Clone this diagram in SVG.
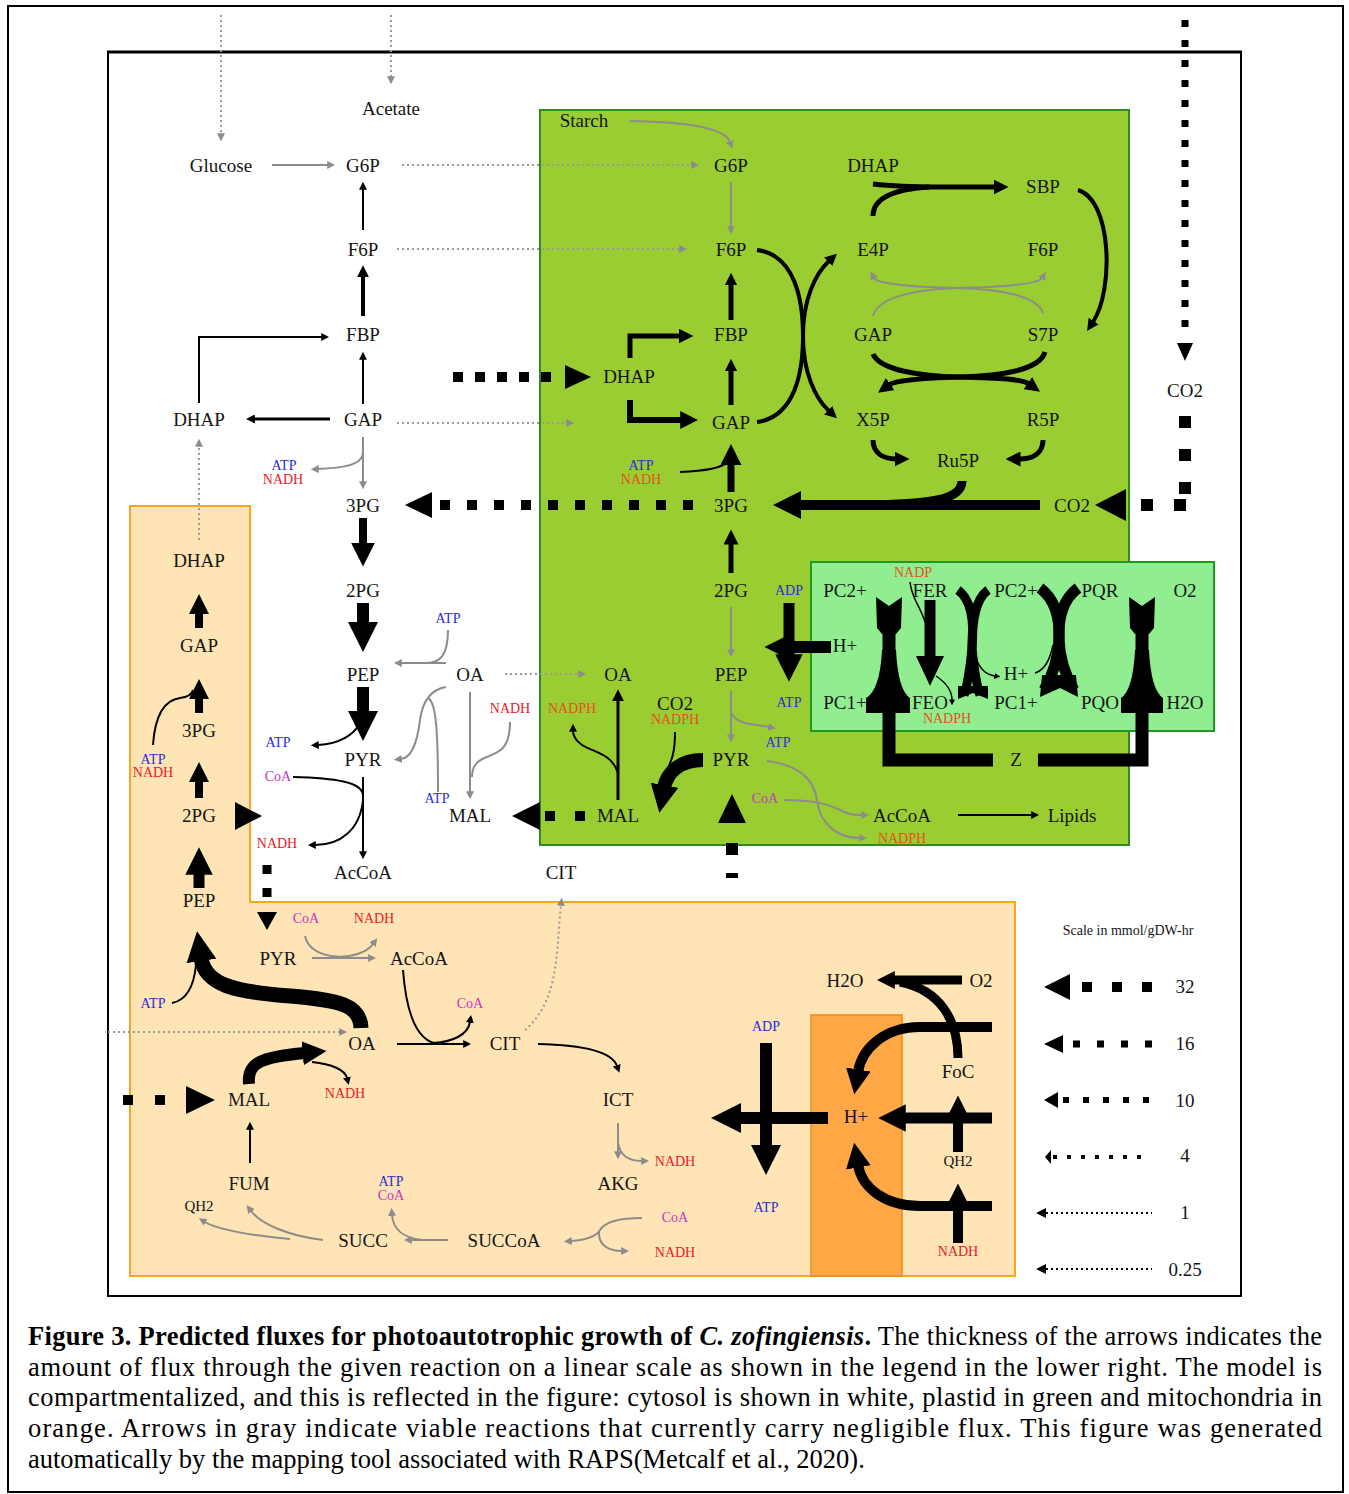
<svg xmlns="http://www.w3.org/2000/svg" width="1349" height="1494" viewBox="0 0 1349 1494">
<style>
.m{font-family:"Liberation Serif","Times New Roman",serif;font-size:19px;fill:#151515;text-anchor:middle;dominant-baseline:central}
.s{font-size:14px}
.q{font-size:15px}
.blue{fill:#2a2ad8}.red{fill:#e8202a}.mag{fill:#c238c2}.org{fill:#e4501a}
.k{fill:none;stroke:#000}
.g{fill:none;stroke:#8c8c8c;stroke-width:2}
.gd{fill:none;stroke:#9a9a9a;stroke-width:2;stroke-dasharray:2 3}
.cap{font-family:"Liberation Serif","Times New Roman",serif;font-size:26.5px;fill:#000}
</style>
<defs>
<marker id="a3" viewBox="0 0 10 10" refX="1" refY="5" markerWidth="3" markerHeight="3" orient="auto" markerUnits="strokeWidth"><path d="M0,0L10,5L0,10z" fill="#000"/></marker>
<marker id="a25" viewBox="0 0 10 10" refX="1" refY="5" markerWidth="2.5" markerHeight="2.5" orient="auto" markerUnits="strokeWidth"><path d="M0,0L10,5L0,10z" fill="#000"/></marker>
<marker id="a2" viewBox="0 0 10 10" refX="1" refY="5" markerWidth="2" markerHeight="2" orient="auto" markerUnits="strokeWidth"><path d="M0,0L10,5L0,10z" fill="#000"/></marker>
<marker id="at" viewBox="0 0 10 10" refX="1" refY="5" markerWidth="4" markerHeight="4" orient="auto" markerUnits="strokeWidth"><path d="M0,0L10,5L0,10z" fill="#000"/></marker>
<marker id="ag" viewBox="0 0 10 10" refX="1" refY="5" markerWidth="4" markerHeight="4" orient="auto" markerUnits="strokeWidth"><path d="M0,0L10,5L0,10z" fill="#8c8c8c"/></marker>
</defs>
<rect width="1349" height="1494" fill="#fff"/>
<rect x="8" y="6" width="1335" height="1486" fill="none" stroke="#000" stroke-width="2"/>
<g id="frame">
<rect x="108" y="52" width="1133" height="1244" fill="#fff" stroke="#000" stroke-width="2"/>
<line x1="107" y1="52" x2="1242" y2="52" stroke="#000" stroke-width="3"/>
</g>
<g id="compartments">
<rect id="plastid" x="540" y="110" width="589" height="735" fill="#9acd32" stroke="#2e8b22" stroke-width="2"/>
<rect id="thylakoid" x="811" y="562" width="403" height="169" fill="#90ee90" stroke="#1e9a1e" stroke-width="2"/>
<polygon id="mitochondrion" points="130,506 250,506 250,902 1015,902 1015,1276 130,1276" fill="#ffe4b5" stroke="#f5a623" stroke-width="2"/>
<rect id="intermembrane" x="811" y="1015" width="91" height="261" fill="#ffa845" stroke="#f08a1a" stroke-width="1.5"/>
</g>
<g id="nodes">
<g id="c_glucose"><text class="m" x="221" y="165">Glucose</text></g>
<g id="c_acetate"><text class="m" x="391" y="108">Acetate</text></g>
<g id="c_g6p"><text class="m" x="363" y="165">G6P</text></g>
<g id="c_f6p"><text class="m" x="363" y="249">F6P</text></g>
<g id="c_fbp"><text class="m" x="363" y="334">FBP</text></g>
<g id="c_dhap"><text class="m" x="199" y="419">DHAP</text></g>
<g id="c_gap"><text class="m" x="363" y="419">GAP</text></g>
<g id="c_3pg"><text class="m" x="363" y="505">3PG</text></g>
<g id="c_2pg"><text class="m" x="363" y="590">2PG</text></g>
<g id="c_pep"><text class="m" x="363" y="674">PEP</text></g>
<g id="c_pyr"><text class="m" x="363" y="759">PYR</text></g>
<g id="c_accoa"><text class="m" x="363" y="872">AcCoA</text></g>
<g id="c_oa"><text class="m" x="470" y="674">OA</text></g>
<g id="c_mal"><text class="m" x="470" y="815">MAL</text></g>
<g id="c_cit"><text class="m" x="561" y="872">CIT</text></g>
<g id="c_co2"><text class="m" x="1185" y="390">CO2</text></g>
<g id="c_cof1"><text class="m s blue" x="284" y="465">ATP</text><text class="m s red" x="283" y="479">NADH</text></g>
<g id="c_cof2"><text class="m s blue" x="448" y="618">ATP</text></g>
<g id="c_cof3"><text class="m s blue" x="278" y="742">ATP</text></g>
<g id="c_cof4"><text class="m s mag" x="278" y="776">CoA</text></g>
<g id="c_cof5"><text class="m s red" x="277" y="843">NADH</text></g>
<g id="c_cof6"><text class="m s red" x="510" y="708">NADH</text></g>
<g id="c_cof7"><text class="m s blue" x="437" y="798">ATP</text></g>

<g id="m_dhap"><text class="m" x="199" y="560">DHAP</text></g>
<g id="m_gap"><text class="m" x="199" y="645">GAP</text></g>
<g id="m_3pg"><text class="m" x="199" y="730">3PG</text></g>
<g id="m_2pg"><text class="m" x="199" y="815">2PG</text></g>
<g id="m_pep"><text class="m" x="199" y="900">PEP</text></g>
<g id="m_pyr"><text class="m" x="278" y="958">PYR</text></g>
<g id="m_accoa"><text class="m" x="419" y="958">AcCoA</text></g>
<g id="m_oa"><text class="m" x="362" y="1043">OA</text></g>
<g id="m_cit"><text class="m" x="505" y="1043">CIT</text></g>
<g id="m_mal"><text class="m" x="249" y="1099">MAL</text></g>
<g id="m_ict"><text class="m" x="618" y="1099">ICT</text></g>
<g id="m_fum"><text class="m" x="249" y="1183">FUM</text></g>
<g id="m_akg"><text class="m" x="618" y="1183">AKG</text></g>
<g id="m_succ"><text class="m" x="363" y="1240">SUCC</text></g>
<g id="m_succoa"><text class="m" x="504" y="1240">SUCCoA</text></g>
<g id="m_qh2a"><text class="m q" x="199" y="1206">QH2</text></g>
<g id="m_h2o"><text class="m" x="845" y="980">H2O</text></g>
<g id="m_o2"><text class="m" x="981" y="980">O2</text></g>
<g id="m_foc"><text class="m" x="958" y="1071">FoC</text></g>
<g id="m_h"><text class="m" x="856" y="1116">H+</text></g>
<g id="m_qh2b"><text class="m q" x="958" y="1161">QH2</text></g>
<g id="m_cof1"><text class="m s blue" x="153" y="759">ATP</text><text class="m s red" x="153" y="772">NADH</text></g>
<g id="m_cof2"><text class="m s blue" x="153" y="1003">ATP</text></g>
<g id="m_cof3"><text class="m s mag" x="306" y="918">CoA</text></g>
<g id="m_cof4"><text class="m s red" x="374" y="918">NADH</text></g>
<g id="m_cof5"><text class="m s mag" x="470" y="1003">CoA</text></g>
<g id="m_cof6"><text class="m s red" x="345" y="1093">NADH</text></g>
<g id="m_cof7"><text class="m s blue" x="391" y="1181">ATP</text><text class="m s mag" x="391" y="1195">CoA</text></g>
<g id="m_cof8"><text class="m s red" x="675" y="1161">NADH</text></g>
<g id="m_cof9"><text class="m s mag" x="675" y="1217">CoA</text></g>
<g id="m_cof10"><text class="m s red" x="675" y="1252">NADH</text></g>
<g id="m_adp"><text class="m s blue" x="766" y="1026">ADP</text></g>
<g id="m_atp"><text class="m s blue" x="766" y="1207">ATP</text></g>
<g id="m_nadh"><text class="m s red" x="958" y="1251">NADH</text></g>

<g id="p_starch"><text class="m" x="584" y="120">Starch</text></g>
<g id="p_g6p"><text class="m" x="731" y="165">G6P</text></g>
<g id="p_f6p"><text class="m" x="731" y="249">F6P</text></g>
<g id="p_fbp"><text class="m" x="731" y="334">FBP</text></g>
<g id="p_dhap"><text class="m" x="629" y="376">DHAP</text></g>
<g id="p_gap"><text class="m" x="731" y="422">GAP</text></g>
<g id="p_3pg"><text class="m" x="731" y="505">3PG</text></g>
<g id="p_2pg"><text class="m" x="731" y="590">2PG</text></g>
<g id="p_pep"><text class="m" x="731" y="674">PEP</text></g>
<g id="p_pyr"><text class="m" x="731" y="759">PYR</text></g>
<g id="p_oa"><text class="m" x="618" y="674">OA</text></g>
<g id="p_mal"><text class="m" x="618" y="815">MAL</text></g>
<g id="p_co2b"><text class="m" x="675" y="703">CO2</text></g>
<g id="p_accoa"><text class="m" x="902" y="815">AcCoA</text></g>
<g id="p_lipids"><text class="m" x="1072" y="815">Lipids</text></g>
<g id="p_dhap2"><text class="m" x="873" y="165">DHAP</text></g>
<g id="p_sbp"><text class="m" x="1043" y="186">SBP</text></g>
<g id="p_e4p"><text class="m" x="873" y="249">E4P</text></g>
<g id="p_f6p2"><text class="m" x="1043" y="249">F6P</text></g>
<g id="p_gap2"><text class="m" x="873" y="334">GAP</text></g>
<g id="p_s7p"><text class="m" x="1043" y="334">S7P</text></g>
<g id="p_x5p"><text class="m" x="873" y="419">X5P</text></g>
<g id="p_r5p"><text class="m" x="1043" y="419">R5P</text></g>
<g id="p_ru5p"><text class="m" x="958" y="460">Ru5P</text></g>
<g id="p_co2"><text class="m" x="1072" y="505">CO2</text></g>
<g id="p_cof1"><text class="m s blue" x="641" y="465">ATP</text><text class="m s org" x="641" y="479">NADH</text></g>
<g id="p_adp"><text class="m s blue" x="789" y="590">ADP</text></g>
<g id="p_atp"><text class="m s blue" x="789" y="702">ATP</text></g>
<g id="p_cof2"><text class="m s blue" x="778" y="742">ATP</text></g>
<g id="p_cof3"><text class="m s org" x="572" y="708">NADPH</text></g>
<g id="p_cof4"><text class="m s org" x="675" y="719">NADPH</text></g>
<g id="p_cof5"><text class="m s mag" x="765" y="798">CoA</text></g>
<g id="p_cof6"><text class="m s org" x="902" y="838">NADPH</text></g>

<g id="t_pc2a"><text class="m" x="845" y="590">PC2+</text></g>
<g id="t_fer"><text class="m" x="930" y="590">FER</text></g>
<g id="t_pc2b"><text class="m" x="1016" y="590">PC2+</text></g>
<g id="t_pqr"><text class="m" x="1100" y="590">PQR</text></g>
<g id="t_o2"><text class="m" x="1185" y="590">O2</text></g>
<g id="t_ha"><text class="m" x="845" y="645">H+</text></g>
<g id="t_hb"><text class="m" x="1016" y="673">H+</text></g>
<g id="t_pc1a"><text class="m" x="845" y="702">PC1+</text></g>
<g id="t_feo"><text class="m" x="930" y="702">FEO</text></g>
<g id="t_pc1b"><text class="m" x="1016" y="702">PC1+</text></g>
<g id="t_pqo"><text class="m" x="1100" y="702">PQO</text></g>
<g id="t_h2o"><text class="m" x="1185" y="702">H2O</text></g>
<g id="t_nadp"><text class="m s org" x="913" y="572">NADP</text></g>
<g id="t_nadph"><text class="m s org" x="947" y="718">NADPH</text></g>
<g id="t_z"><text class="m" x="1016" y="759">Z</text></g>
</g>

<g id="connectors">
<path class="gd" d="M221,15 V134" marker-end="url(#ag)"/>
<path class="gd" d="M391,15 V77" marker-end="url(#ag)"/>
<path class="g" d="M272,165 H328" marker-end="url(#ag)"/>
<path class="gd" d="M402,165 H692" marker-end="url(#ag)"/>
<path class="gd" d="M397,249 H680" marker-end="url(#ag)"/>
<path class="gd" d="M397,423 H567" marker-end="url(#ag)"/>
<path class="gd" d="M505,674 H579" marker-end="url(#ag)"/>
<path class="g" d="M363,437 V482" marker-end="url(#ag)"/>
<path class="g" d="M363,452 C363,466 340,468 318,469" marker-end="url(#ag)"/>
<path class="g" d="M446,663 H401" marker-end="url(#ag)"/>
<path class="g" d="M448,630 C448,655 440,663 427,663"/>
<path class="g" d="M446,687 C428,690 422,705 420,720 C417,745 410,758 401,759" marker-end="url(#ag)"/>
<path class="g" d="M438,792 C438,740 437,702 428,698"/>
<path class="g" d="M470,692 V792" marker-end="url(#ag)"/>
<path class="g" d="M510,722 C510,748 500,752 487,757 C476,761 472,767 472,777"/>
<path class="gd" d="M525,1030 C560,1000 556,950 561,905" marker-end="url(#ag)"/>

<path class="k" stroke-width="2" d="M363,230 V189" marker-end="url(#at)"/>
<path class="k" stroke-width="4" d="M363,316 V276" marker-end="url(#a3)"/>
<path class="k" stroke-width="2" d="M363,404 V359" marker-end="url(#at)"/>
<path class="k" stroke-width="2" d="M199,403 V337 H322" marker-end="url(#at)"/>
<path class="k" stroke-width="3" d="M330,419 H254" marker-end="url(#a3)"/>
<path class="k" stroke-width="8" d="M363,518 V545" marker-end="url(#a3)"/>
<path class="k" stroke-width="12" d="M363,603 V625" marker-end="url(#a25)"/>
<path class="k" stroke-width="12" d="M363,687 V714" marker-end="url(#a25)"/>
<path class="k" stroke-width="2" d="M361,722 C352,738 335,744 318,745" marker-end="url(#at)"/>
<path class="k" stroke-width="2" d="M363,777 V852" marker-end="url(#at)"/>
<path class="k" stroke-width="2" d="M293,777 C335,778 362,782 363,795"/>
<path class="k" stroke-width="2" d="M363,800 C360,830 340,845 315,845" marker-end="url(#at)"/>
<path d="M440,505 H693" stroke="#000" stroke-width="10" stroke-dasharray="10 17"/>
<polygon points="405,505 432,492 432,518"/>
<path d="M545,816 H586" stroke="#000" stroke-width="10" stroke-dasharray="10 20"/>
<polygon points="512,816 540,802 540,830"/>

<path class="gd" d="M199,540 V446" marker-end="url(#ag)"/>
<path class="k" stroke-width="8" d="M199,628 V612" marker-end="url(#a25)"/>
<path class="k" stroke-width="8" d="M199,713 V697" marker-end="url(#a25)"/>
<path class="k" stroke-width="8" d="M199,798 V780" marker-end="url(#a25)"/>
<path class="k" stroke-width="11" d="M199,888 V872" marker-end="url(#a25)"/>
<path class="k" stroke-width="2" d="M153,745 C155,715 165,700 180,698 C188,697 192,694 193,690"/>
<polygon points="235,802 262,816 235,830"/>
<path d="M267,865 V898" stroke="#000" stroke-width="9" stroke-dasharray="9 14"/>
<polygon points="257,912 277,912 267,930"/>
<path class="k" stroke-width="15" d="M361,1028 C360,1005 340,1000 290,996 C235,992 205,985 201,958" marker-end="url(#a2)"/>
<path class="k" stroke-width="2" d="M172,1003 C188,1000 194,985 196,965"/>
<path class="g" d="M312,958 H369" marker-end="url(#ag)"/>
<path class="g" d="M305,936 C310,962 360,962 373,944" marker-end="url(#ag)"/>
<path class="k" stroke-width="2" d="M397,1044 H464" marker-end="url(#at)"/>
<path class="k" stroke-width="2" d="M403,970 C406,1010 415,1043 440,1044"/>
<path class="k" stroke-width="2" d="M433,1043 C452,1042 468,1035 470,1022" marker-end="url(#at)"/>
<path class="gd" d="M108,1032 H340" marker-end="url(#ag)"/>
<path d="M123,1100 H165" stroke="#000" stroke-width="10" stroke-dasharray="10 22"/>
<polygon points="186,1086 215,1100 186,1114"/>
<path class="k" stroke-width="12" d="M249,1084 C247,1062 262,1057 305,1053" marker-end="url(#a2)"/>
<path class="k" stroke-width="2" d="M312,1062 C332,1064 345,1070 347,1078" marker-end="url(#at)"/>
<path class="k" stroke-width="2" d="M250,1163 V1129" marker-end="url(#at)"/>
<path class="g" d="M323,1240 C290,1236 262,1225 251,1211" marker-end="url(#ag)"/>
<path class="g" d="M290,1239 C255,1236 218,1230 205,1222" marker-end="url(#ag)"/>
<path class="g" d="M448,1240 H411" marker-end="url(#ag)"/>
<path class="g" d="M422,1240 C402,1238 393,1228 392,1215" marker-end="url(#ag)"/>
<path class="k" stroke-width="2" d="M538,1044 C585,1045 612,1052 617,1066" marker-end="url(#at)"/>
<path class="g" d="M618,1123 V1152" marker-end="url(#ag)"/>
<path class="g" d="M618,1142 C620,1158 632,1161 642,1161" marker-end="url(#ag)"/>
<path class="g" d="M642,1218 C618,1218 605,1222 600,1230 C596,1237 585,1240 571,1241" marker-end="url(#ag)"/>
<path class="g" d="M599,1232 C598,1246 610,1251 622,1251" marker-end="url(#ag)"/>

<path class="k" stroke-width="9" d="M962,980 H893" marker-end="url(#a2)"/>
<path class="k" stroke-width="9" d="M958,1058 C958,1020 940,990 900,982"/>
<path class="k" stroke-width="10" d="M992,1027 H920 C885,1027 862,1048 858,1072" marker-end="url(#a25)"/>
<path class="k" stroke-width="12" d="M828,1118 H738" marker-end="url(#a25)"/>
<path class="k" stroke-width="12" d="M766,1043 V1148" marker-end="url(#a25)"/>
<path class="k" stroke-width="11" d="M992,1118 H903" marker-end="url(#a25)"/>
<path class="k" stroke-width="10" d="M958,1152 V1118" marker-end="url(#a25)"/>
<path class="k" stroke-width="10" d="M958,1243 V1206" marker-end="url(#a25)"/>
<path class="k" stroke-width="10" d="M992,1206 H920 C885,1206 862,1188 858,1165" marker-end="url(#a25)"/>

<path class="g" d="M630,121 C690,122 725,128 730,142" marker-end="url(#ag)"/>
<path class="g" d="M731,182 V227" marker-end="url(#ag)"/>
<path class="k" stroke-width="5" d="M731,320 V284" marker-end="url(#a25)"/>
<path class="k" stroke-width="5" d="M731,405 V370" marker-end="url(#a25)"/>
<path class="k" stroke-width="5" d="M630,358 V336 H680" marker-end="url(#a3)"/>
<path class="k" stroke-width="6" d="M630,400 V420 H682" marker-end="url(#a3)"/>
<path class="k" stroke-width="7" d="M731,492 V463" marker-end="url(#a3)"/>
<path class="k" stroke-width="2" d="M680,472 C705,471 722,468 727,462"/>
<path d="M453,377 H553" stroke="#000" stroke-width="10" stroke-dasharray="10 12"/>
<polygon points="565,365 591,377 565,389"/>
<path class="k" stroke-width="10" d="M1040,505 H799"/>
<polygon points="773,505 801,491 801,519"/>
<path class="k" stroke-width="9" d="M962,481 C962,500 930,504 870,505"/>
<polygon points="1095,505 1126,489 1126,521"/>
<path d="M1141,505 H1190" stroke="#000" stroke-width="12" stroke-dasharray="12 21"/>
<path d="M1185,416 V500" stroke="#000" stroke-width="12" stroke-dasharray="12 21"/>
<path d="M1185,20 V340" stroke="#000" stroke-width="7" stroke-dasharray="7 13"/>
<polygon points="1177,343 1193,343 1185,361"/>
<path class="k" stroke-width="5" d="M731,573 V543" marker-end="url(#a3)"/>
<path class="g" d="M731,607 V650" marker-end="url(#ag)"/>
<path class="g" d="M731,691 V735" marker-end="url(#ag)"/>
<path class="g" d="M732,714 C738,725 755,724 769,727" marker-end="url(#ag)"/>
<path class="g" d="M767,761 C800,765 814,780 817,800 C820,825 838,838 860,838" marker-end="url(#ag)"/>
<path class="g" d="M784,800 C820,800 832,806 842,811 C850,815 855,815 862,815" marker-end="url(#ag)"/>
<path class="k" stroke-width="2" d="M958,815 H1032" marker-end="url(#at)"/>
<polygon points="732,794 746,823 718,823"/>
<rect x="726" y="843" width="12" height="12"/>
<rect x="726" y="873" width="12" height="5"/>
<path class="k" stroke-width="3" d="M618,800 V700" marker-end="url(#at)"/>
<path class="k" stroke-width="2" d="M618,773 C612,753 592,752 582,745 C575,740 573,735 573,731" marker-end="url(#at)"/>
<path class="k" stroke-width="14" d="M703,760 C680,760 667,772 664,788" marker-end="url(#a2)"/>
<path class="k" stroke-width="2" d="M675,732 C675,752 672,760 667,770"/>
<path class="k" stroke-width="11" d="M789,603 V657" marker-end="url(#a25)"/>
<path class="k" stroke-width="12" d="M831,647 H786" marker-end="url(#a2)"/>

<path class="k" stroke-width="5" d="M873,184 C890,186 910,187 940,187 H995" marker-end="url(#a3)"/>
<path class="k" stroke-width="5" d="M873,216 C873,198 895,189 930,187"/>
<path class="k" stroke-width="4" d="M1078,190 C1112,200 1114,290 1093,322" marker-end="url(#a3)"/>
<path class="k" stroke-width="4" d="M757,250 C795,255 803,300 803,336 C803,372 815,398 829,411" marker-end="url(#a3)"/>
<path class="k" stroke-width="4" d="M757,422 C795,417 803,372 803,336 C803,300 815,274 829,261" marker-end="url(#a3)"/>
<path class="g" d="M873,316 C878,296 920,289 958,288 C1000,287 1038,284 1042,278" marker-end="url(#ag)"/>
<path class="g" d="M1043,313 C1038,296 1000,289 958,288 C916,287 877,284 874,278" marker-end="url(#ag)"/>
<path class="k" stroke-width="5" d="M873,354 C880,370 920,376 960,377 C1000,378 1022,379 1029,384" marker-end="url(#a3)"/>
<path class="k" stroke-width="5" d="M1045,352 C1040,370 1000,376 960,377 C920,378 896,380 889,385" marker-end="url(#a3)"/>
<path class="k" stroke-width="5" d="M873,440 C873,453 883,459 896,459" marker-end="url(#a3)"/>
<path class="k" stroke-width="5" d="M1043,440 C1043,453 1033,459 1019,459" marker-end="url(#a3)"/>

<path class="k" stroke-width="13" d="M993,760 H889 V630"/>
<path d="M882,650 L896,650 Q898,690 910,698 L910,713 L866,713 L866,698 Q880,690 882,650 Z"/>
<polygon points="876,597 889,606 902,597 901,628 896,634 882,634 877,628"/>
<path class="k" stroke-width="11" d="M930,600 V658"/>
<polygon points="916,656 944,656 930,686"/>
<path class="k" stroke-width="1.5" d="M910,582 C912,600 920,605 925,622"/>
<path class="k" stroke-width="1.5" d="M936,676 C948,684 952,692 952,700" marker-end="url(#at)"/>
<path class="k" stroke-width="9" d="M958,590 C972,600 974,625 972,648 C970,672 966,690 964,695"/>
<path class="k" stroke-width="9" d="M988,590 C974,600 972,625 972,648 C974,672 978,690 980,695"/>
<polygon points="958,686 988,686 988,699 973,693 958,699"/>
<path class="k" stroke-width="1.5" d="M976,658 C980,670 988,675 995,676" marker-end="url(#at)"/>
<path class="k" stroke-width="11" d="M1040,588 C1056,600 1060,620 1059,640 C1058,662 1050,680 1044,690"/>
<path class="k" stroke-width="11" d="M1078,588 C1062,600 1058,620 1059,640 C1060,662 1068,680 1074,690"/>
<polygon points="1042,675 1076,675 1078,697 1060,688 1040,697"/>
<path class="k" stroke-width="1.5" d="M1053,645 C1050,660 1045,670 1035,673"/>
<path class="k" stroke-width="13" d="M1038,760 H1142 V630"/>
<path d="M1135,650 L1149,650 Q1151,690 1163,698 L1163,713 L1121,713 L1121,698 Q1133,690 1135,650 Z"/>
<polygon points="1129,597 1142,606 1155,597 1154,628 1149,634 1135,634 1130,628"/>
</g>

<g id="legend">
<text class="m" style="font-size:14px" x="1128" y="930">Scale in mmol/gDW-hr</text>
<polygon points="1044,987 1070,974 1070,1000"/>
<path d="M1082,987 H1152" stroke="#000" stroke-width="10" stroke-dasharray="10 20"/>
<text class="m" x="1185" y="986">32</text>
<polygon points="1044,1044 1063,1035 1063,1053"/>
<path d="M1073,1044 H1152" stroke="#000" stroke-width="7" stroke-dasharray="7 17"/>
<text class="m" x="1185" y="1043">16</text>
<polygon points="1044,1100 1058,1092 1058,1108"/>
<path d="M1063,1100 H1151" stroke="#000" stroke-width="6" stroke-dasharray="6 14"/>
<text class="m" x="1185" y="1100">10</text>
<polygon points="1045,1157 1051,1150 1051,1164"/>
<path d="M1053,1157 H1151" stroke="#000" stroke-width="4" stroke-dasharray="4 10"/>
<text class="m" x="1185" y="1155">4</text>
<polygon points="1036,1213 1046,1208 1046,1218"/>
<path d="M1046,1213 H1152" stroke="#000" stroke-width="2" stroke-dasharray="2 3"/>
<text class="m" x="1185" y="1212">1</text>
<polygon points="1036,1269 1046,1264 1046,1274"/>
<path d="M1046,1269 H1152" stroke="#000" stroke-width="2" stroke-dasharray="2 3"/>
<text class="m" x="1185" y="1269">0.25</text>
</g>

<g id="caption">
<text class="cap" x="28" y="1345" textLength="1294" lengthAdjust="spacing"><tspan font-weight="bold">Figure 3. Predicted fluxes for photoautotrophic growth of <tspan font-style="italic">C. zofingiensis</tspan>.</tspan> The thickness of the arrows indicates the</text>
<text class="cap" x="28" y="1376" textLength="1294" lengthAdjust="spacing">amount of flux through the given reaction on a linear scale as shown in the legend in the lower right. The model is</text>
<text class="cap" x="28" y="1406" textLength="1294" lengthAdjust="spacing">compartmentalized, and this is reflected in the figure: cytosol is shown in white, plastid in green and mitochondria in</text>
<text class="cap" x="28" y="1437" textLength="1294" lengthAdjust="spacing">orange. Arrows in gray indicate viable reactions that currently carry negligible flux. This figure was generated</text>
<text class="cap" x="28" y="1468">automatically by the mapping tool associated with RAPS(Metcalf et al., 2020).</text>
</g>
</svg>
